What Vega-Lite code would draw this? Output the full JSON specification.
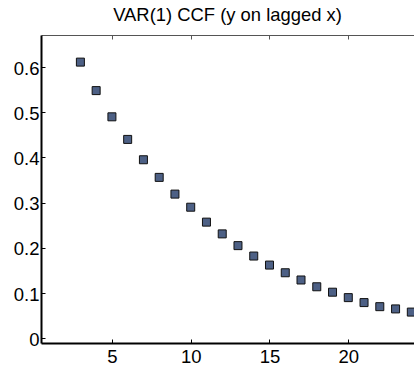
{
  "$schema": "https://vega.github.io/schema/vega-lite/v6.json",
  "width": 373,
  "height": 308,
  "autosize": {"type": "none"},
  "padding": {"left": 41, "top": 35, "right": 0, "bottom": 26},
  "title": {"text": "VAR(1) CCF (y on lagged x)", "font": "Liberation Sans", "fontSize": 18.4, "fontWeight": "normal", "color": "#000000", "anchor": "middle", "offset": 10},
  "data": {"values": [
    {"lag": 3, "ccf": 0.611},
    {"lag": 4, "ccf": 0.548},
    {"lag": 5, "ccf": 0.490},
    {"lag": 6, "ccf": 0.440},
    {"lag": 7, "ccf": 0.395},
    {"lag": 8, "ccf": 0.356},
    {"lag": 9, "ccf": 0.319},
    {"lag": 10, "ccf": 0.290},
    {"lag": 11, "ccf": 0.257},
    {"lag": 12, "ccf": 0.231},
    {"lag": 13, "ccf": 0.205},
    {"lag": 14, "ccf": 0.182},
    {"lag": 15, "ccf": 0.162},
    {"lag": 16, "ccf": 0.145},
    {"lag": 17, "ccf": 0.129},
    {"lag": 18, "ccf": 0.114},
    {"lag": 19, "ccf": 0.102},
    {"lag": 20, "ccf": 0.090},
    {"lag": 21, "ccf": 0.079},
    {"lag": 22, "ccf": 0.070},
    {"lag": 23, "ccf": 0.065},
    {"lag": 24, "ccf": 0.058}
  ]},
  "layer": [
    {
      "mark": {"type": "point", "shape": "square", "filled": true, "size": 64, "fill": "#4d6085", "stroke": "#111111", "strokeWidth": 1, "opacity": 1, "clip": true},
      "encoding": {
        "x": {"field": "lag", "type": "quantitative", "scale": {"domain": [0.5, 24.17], "nice": false, "zero": false},
          "axis": {"orient": "bottom", "values": [5, 10, 15, 20], "title": null, "grid": false, "domainColor": "#000000", "domainWidth": 2, "tickColor": "#000000", "tickSize": -4, "tickWidth": 1, "labelFont": "Liberation Sans", "labelFontSize": 18.5, "labelColor": "#000000", "labelPadding": 8}},
        "y": {"field": "ccf", "type": "quantitative", "scale": {"domain": [-0.0104, 0.671], "nice": false, "zero": false},
          "axis": {"values": [0, 0.1, 0.2, 0.3, 0.4, 0.5, 0.6], "labelExpr": "datum.value === 0 ? '0' : format(datum.value, '.1f')", "title": null, "grid": false, "domainColor": "#000000", "domainWidth": 2, "tickColor": "#000000", "tickSize": -4, "tickWidth": 1, "labelFont": "Liberation Sans", "labelFontSize": 18.5, "labelColor": "#000000", "labelPadding": 6, "labelOffset": 1}}
      }
    },
    {
      "mark": {"type": "point", "opacity": 0},
      "encoding": {
        "x": {"field": "lag", "type": "quantitative",
          "axis": {"orient": "top", "values": [5, 10, 15, 20], "labels": false, "title": null, "grid": false, "domainColor": "#555555", "domainWidth": 1, "tickColor": "#555555", "tickSize": -4, "tickWidth": 1}}
      }
    }
  ],
  "resolve": {"axis": {"x": "independent"}},
  "config": {"view": {"stroke": null}}
}
